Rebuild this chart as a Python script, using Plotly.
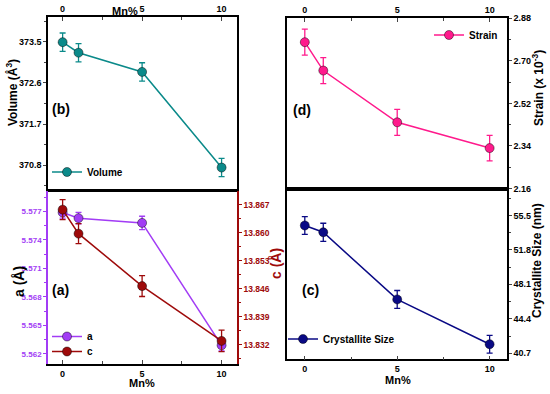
import plotly.graph_objects as go

mn = [0, 1, 5, 10]
volume = [373.49, 373.26, 372.84, 370.75]
volume_err = [0.2, 0.2, 0.2, 0.2]
a_vals = [5.5769, 5.5763, 5.5758, 5.5629]
a_err = [0.0006, 0.0006, 0.0007, 0.0006]
c_vals = [13.8658, 13.8598, 13.8467, 13.8330]
c_err = [0.0025, 0.0025, 0.0026, 0.0027]
strain = [2.779, 2.659, 2.440, 2.331]
strain_err = [0.055, 0.055, 0.055, 0.054]
cryst = [54.42, 53.69, 46.48, 41.67]
cryst_err = [0.95, 0.97, 0.96, 0.95]

x_ticks = [0, 5, 10]
vol_ticks = [370.8, 371.7, 372.6, 373.5]
a_ticks = [5.562, 5.565, 5.568, 5.571, 5.574, 5.577]
c_ticks = [13.832, 13.839, 13.846, 13.853, 13.860, 13.867]
strain_ticks = [2.16, 2.34, 2.52, 2.70, 2.88]
cryst_ticks = [40.7, 44.4, 48.1, 51.8, 55.5]

W, H = 550, 394
def px(x): return x / W
def py(y): return 1 - y / H

TEAL = "#0b8a8a"
PURPLE = "#a23cf5"
DRED = "#9e0a0a"
PINK = "#ff1a8c"
NAVY = "#0a0a85"
FONT = "Arial"

fig = go.Figure()

def trace(x, y, err, color, name, xa, ya, legend):
    return go.Scatter(
        x=x, y=y, name=name, mode="lines+markers", xaxis=xa, yaxis=ya, legend=legend,
        line=dict(color=color, width=1.5),
        marker=dict(color=color, size=9, line=dict(color="rgba(0,0,0,0.45)", width=1)),
        error_y=dict(type="data", array=err, color=color, thickness=1.3, width=3),
    )

fig.add_trace(trace(mn, volume, volume_err, TEAL, "Volume", "x", "y", "legend"))
fig.add_trace(trace(mn, a_vals, a_err, PURPLE, "a", "x2", "y2", "legend2"))
fig.add_trace(trace(mn, c_vals, c_err, DRED, "c", "x2", "y3", "legend5"))
fig.add_trace(trace(mn, strain, strain_err, PINK, "Strain", "x3", "y4", "legend3"))
fig.add_trace(trace(mn, cryst, cryst_err, NAVY, "Crystallite Size", "x4", "y5", "legend4"))

tickfont = dict(family=FONT, size=9, color="black", weight="bold")
LW = 1.5
TL = 3

def xax(domain, side, showlabels, rng):
    return dict(domain=domain, range=rng, side=side, tickvals=x_ticks, automargin=False,
                showticklabels=showlabels, ticks="inside", ticklen=4, tickwidth=1,
                minor=dict(ticks="inside", ticklen=3, tickvals=[2.5, 7.5]),
                showline=True, linecolor="black", linewidth=LW, mirror=True,
                showgrid=False, zeroline=False, tickfont=tickfont)

left_x = [px(48), px(237)]
right_x = [px(286.5), px(507)]
xr_left = [-0.92, 10.97]
xr_right = [-0.99, 10.94]

fig.update_layout(
    width=W, height=H, margin=dict(l=0, r=0, t=0, b=0, autoexpand=False),
    paper_bgcolor="white", plot_bgcolor="white", showlegend=True,
    font=dict(family=FONT, weight="bold"),
    xaxis=xax(left_x, "top", True, xr_left) | dict(anchor="y"),
    xaxis2=xax(left_x, "bottom", True, xr_left) | dict(anchor="y2"),
    xaxis3=xax(right_x, "top", True, xr_right) | dict(anchor="y4"),
    xaxis4=xax(right_x, "bottom", True, xr_right) | dict(anchor="y5"),
    yaxis=dict(domain=[py(189.5), py(17)], range=[370.27, 374.04], anchor="x", side="left",
               tickvals=vol_ticks, ticktext=[f"{v:.1f}" for v in vol_ticks], automargin=False,
               ticks="outside", ticklen=TL, tickwidth=1,
               minor=dict(ticks="outside", ticklen=2, dtick=0.45, tick0=370.8),
               showline=True, linecolor="black", linewidth=LW, mirror=True,
               showgrid=False, zeroline=False, tickfont=tickfont),
    yaxis2=dict(domain=[py(364), py(191)], range=[5.56093, 5.57916], anchor="x2", side="left",
                tickvals=a_ticks, ticktext=[f"{v:.3f}" for v in a_ticks], automargin=False,
                ticks="outside", ticklen=TL, tickwidth=1, tickcolor=PURPLE,
                minor=dict(ticks="outside", ticklen=2, dtick=0.0015, tick0=5.562, tickcolor=PURPLE),
                showline=True, linecolor=PURPLE, linewidth=LW,
                showgrid=False, zeroline=False, tickfont=tickfont | dict(color=PURPLE, size=8)),
    yaxis3=dict(range=[13.82723, 13.87046], anchor="x2", overlaying="y2", side="right",
                tickvals=c_ticks, ticktext=[f"{v:.3f}" for v in c_ticks], automargin=False,
                ticks="outside", ticklen=TL, tickwidth=1, tickcolor=DRED,
                minor=dict(ticks="outside", ticklen=2, dtick=0.0035, tick0=13.832, tickcolor=DRED),
                showline=True, linecolor=DRED, linewidth=LW,
                showgrid=False, zeroline=False, tickfont=tickfont | dict(color=DRED, size=8.5)),
    yaxis4=dict(domain=[py(188.5), py(18.3)], range=[2.16, 2.88], anchor="x3", side="right",
                tickvals=strain_ticks, ticktext=[f"{v:.2f}" for v in strain_ticks], automargin=False,
                ticks="outside", ticklen=TL, tickwidth=1,
                minor=dict(ticks="outside", ticklen=2, dtick=0.09, tick0=2.16),
                showline=True, linecolor="black", linewidth=LW, mirror=True,
                showgrid=False, zeroline=False, tickfont=tickfont),
    yaxis5=dict(domain=[py(359.3), py(188.5)], range=[40.05, 58.39], anchor="x4", side="right",
                tickvals=cryst_ticks, ticktext=[f"{v:.1f}" for v in cryst_ticks], automargin=False,
                ticks="outside", ticklen=TL, tickwidth=1,
                minor=dict(ticks="outside", ticklen=2, dtick=1.85, tick0=40.7),
                showline=True, linecolor="black", linewidth=LW, mirror=True,
                showgrid=False, zeroline=False, tickfont=tickfont),
)

legfont = dict(family=FONT, size=10, color="black", weight="bold")
leg_common = dict(bgcolor="rgba(0,0,0,0)", borderwidth=0, font=legfont,
                  xref="paper", yref="paper", itemwidth=30, tracegroupgap=0)
fig.update_layout(
    legend=leg_common | dict(x=px(47), y=py(172), xanchor="left", yanchor="middle"),
    legend2=leg_common | dict(x=px(47), y=py(336.5), xanchor="left", yanchor="middle"),
    legend5=leg_common | dict(x=px(47), y=py(351.5), xanchor="left", yanchor="middle"),
    legend3=leg_common | dict(x=px(503), y=py(35), xanchor="right", yanchor="middle"),
    legend4=leg_common | dict(x=px(283), y=py(339), xanchor="left", yanchor="middle"),
)

def ann(text, x, y, size, color="black", angle=0):
    fig.add_annotation(text=text, x=px(x), y=py(y), xref="paper", yref="paper",
                       showarrow=False, textangle=angle, xanchor="center", yanchor="middle",
                       font=dict(family=FONT, size=size, color=color, weight="bold"))

ann("Volume (Å<sup>3</sup>)", 12, 93, 12, angle=-90)
ann("a (Å)", 19, 282, 14, angle=-90)
ann("c (Å)", 276, 264, 14, color=DRED, angle=-90)
ann("Strain (x 10<sup>-3</sup>)", 538, 88, 12, angle=-90)
ann("Crystallite Size (nm)", 537, 261, 12, angle=-90)
ann("Mn%", 125, 11, 11)
ann("Mn%", 142, 383, 11)
ann("Mn%", 398, 380, 11)
ann("(b)", 61, 109, 14)
ann("(a)", 60, 290, 14)
ann("(d)", 302, 110, 14)
ann("(c)", 310, 290, 14)

fig.write_html("out.html", config={"displayModeBar": False},
               post_script="document.body.style.margin='0';document.body.style.overflow='hidden';")
